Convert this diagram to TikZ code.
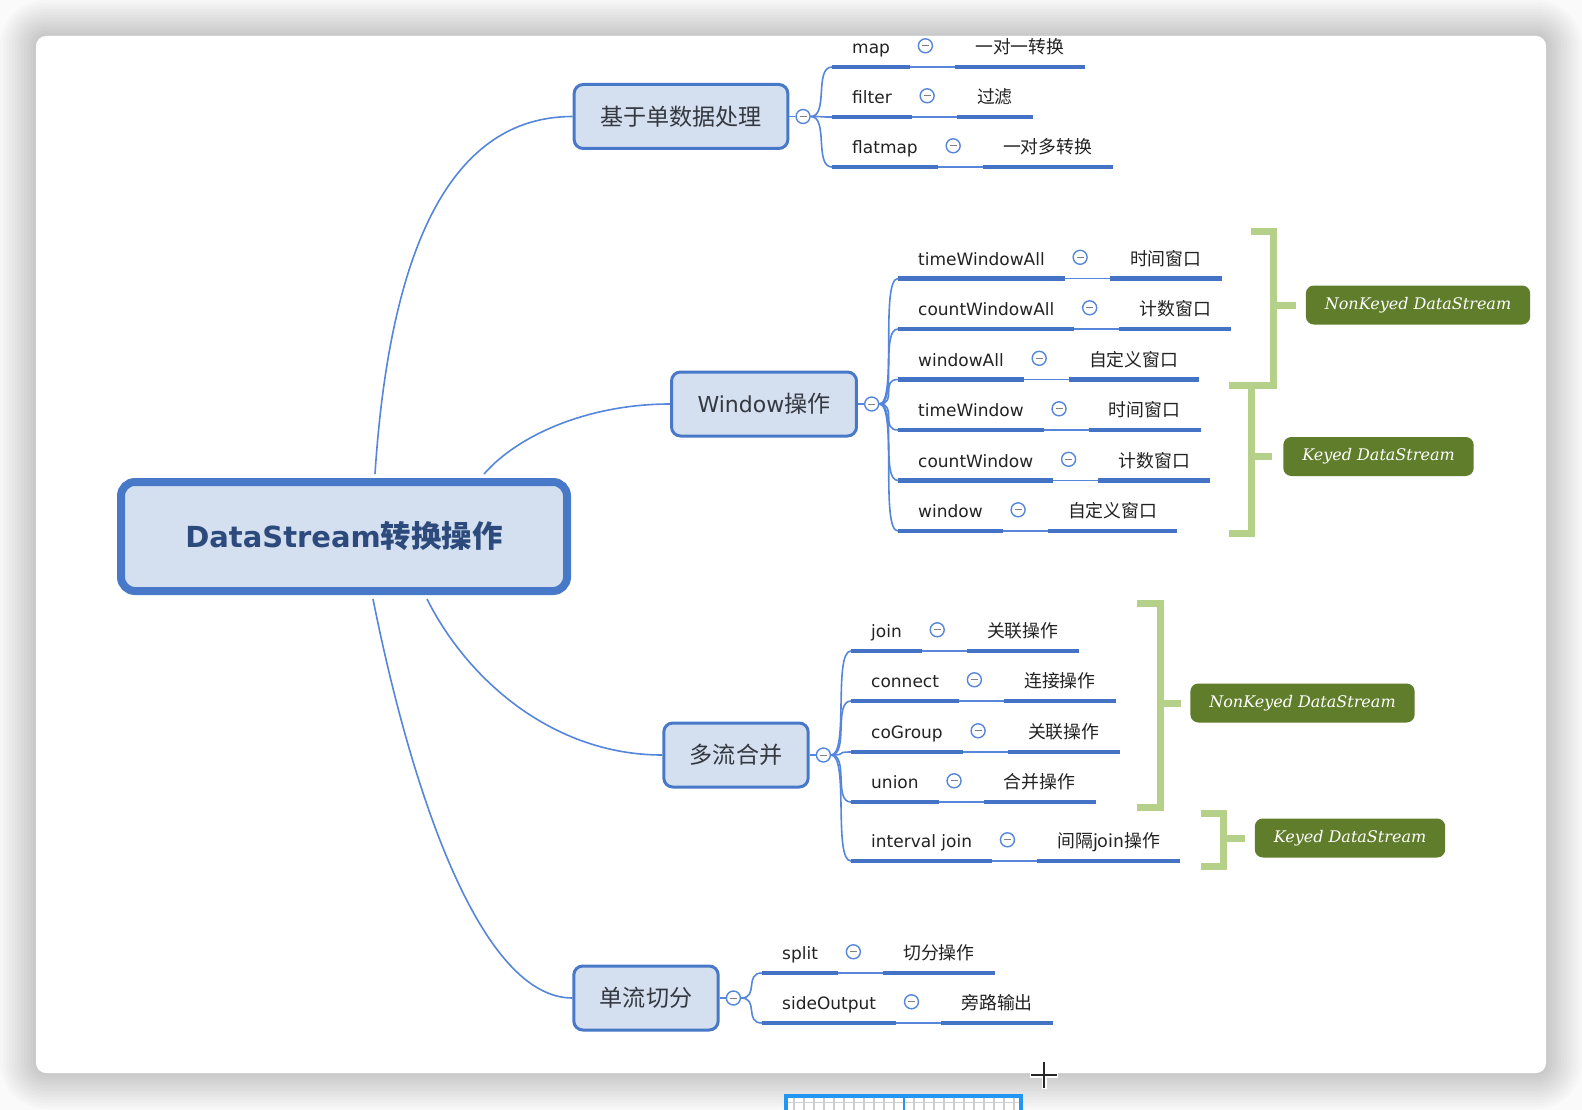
\documentclass[tikz,border=0pt]{standalone}
\usepackage{fontspec}
\setmainfont{DejaVu Sans}
\newfontfamily\cjk{Noto Sans CJK SC}[Scale=1.05]
\newfontfamily\tagfont{DejaVu Serif}
\usetikzlibrary{positioning,calc}

\definecolor{lineblue}{RGB}{68,114,196}
\definecolor{branchblue}{RGB}{86,134,220}
\definecolor{boxfill}{RGB}{212,223,239}
\definecolor{boxblue}{RGB}{72,121,201}
\definecolor{roottext}{RGB}{44,74,124}
\definecolor{topictext}{RGB}{52,56,64}
\definecolor{leaftext}{RGB}{34,34,34}
\definecolor{tagfill}{RGB}{96,125,43}
\definecolor{bracketgreen}{RGB}{181,208,136}
\definecolor{rulerblue}{RGB}{33,150,243}

\tikzset{
  maintopic/.style={draw=boxblue, line width=8pt, fill=boxfill, rounded corners=14pt,
    minimum width=446pt, minimum height=109pt, text=roottext,
    font=\bfseries\fontsize{29}{34}\selectfont},
  subtopic/.style={draw=boxblue, line width=3pt, fill=boxfill, rounded corners=9pt,
    minimum height=64pt, inner xsep=26pt, text=topictext, font=\fontsize{22}{26}\selectfont},
  fold/.style={circle, draw=branchblue, line width=1.4pt, fill=white, minimum size=14pt, inner sep=0pt,
    path picture={\draw[gray, line width=1pt] ([xshift=-3.5pt]path picture bounding box.center)
      -- ([xshift=3.5pt]path picture bounding box.center);}},
  leaf/.style={inner xsep=20pt, inner ysep=9pt, text height=20pt, text depth=4pt,
    text=leaftext, font=\fontsize{17}{20}\selectfont},
  uline/.style={draw=lineblue, line width=4.5pt},
  branch/.style={draw=branchblue, line width=1.6pt},
  bracketline/.style={draw=bracketgreen, line width=7pt, line join=miter},
  tagbox/.style={fill=tagfill, rounded corners=8pt, minimum height=39pt, inner xsep=19pt,
    text=white, font=\tagfont\itshape\fontsize{16}{19}\selectfont}
}

\begin{document}
\begin{tikzpicture}[x=1pt, y=-1pt]
    \useasboundingbox (0,0) rectangle (1582,1110);
    \clip (0,0) rectangle (1582,1110);

    % Window shadow and canvas
    \fill[gray!4] (0,0) rectangle (1582,1110);
    \foreach \k [evaluate=\k as \r using 10+3*\k] in {1,...,12}
        \fill[black, opacity=0.016, rounded corners=\r pt] ({36-3*\k},{36-3*\k}) rectangle ({1546+3*\k},{1073+3*\k});
    \fill[white, rounded corners=10pt] (36,36) rectangle (1546,1073);

    % Central topic
    \node[maintopic] (root) at (344,536.5) {DataStream{\cjk 转换操作}};

    % Main topics
    \node[subtopic] (g1) at (681,116.5) {\cjk 基于单数据处理};
    \node[subtopic] (g2) at (764,404) {Window{\cjk 操作}};
    \node[subtopic] (g3) at (736,755) {\cjk 多流合并};
    \node[subtopic] (g4) at (646,998) {\cjk 单流切分};

    \draw[branch] ($(root.north)+(31,-4)$) .. controls +(15,-230) and +(-120,0) .. (g1.west);
    \draw[branch] ($(root.north)+(140,-4)$) .. controls +(35,-40) and +(-80,0) .. (g2.west);
    \draw[branch] ($(root.south)+(83,4)$) .. controls +(40,80) and +(-110,0) .. (g3.west);
    \draw[branch] ($(root.south)+(29,4)$) .. controls +(40,200) and +(-90,0) .. (g4.west);

    % Fold buttons
    \foreach \g in {1,...,4}{
        \node[fold, right=6pt of g\g] (g\g c) {};
        \draw[branch] (g\g.east) -- (g\g c.west);
    }

    % Single data processing
    \foreach \lbl/\desc [count=\i] in {map/一对一转换, filter/过滤, flatmap/一对多转换}{
        \node[leaf, anchor=south west] (m\i) at (832,{17+50*\i}) {\lbl};
        \node[fold, right=7.5pt of m\i] (mc\i) {};
        \node[leaf, right=22pt of mc\i] (md\i) {\cjk\desc};
        \draw[uline] (m\i.south west) -- (m\i.south east);
        \draw[uline] (md\i.south west) -- (md\i.south east);
        \draw[branch] (m\i.south east) -- (md\i.south west);
        \draw[branch] (g1c.east) .. controls +(18,0) and +(-18,0) .. (m\i.south west);
    }

    % Window operations
    \foreach \lbl/\desc [count=\i] in {timeWindowAll/时间窗口, countWindowAll/计数窗口, windowAll/自定义窗口,
            timeWindow/时间窗口, countWindow/计数窗口, window/自定义窗口}{
        \node[leaf, anchor=south west] (w\i) at (898,{228+50.5*\i}) {\lbl};
        \node[fold, right=7.5pt of w\i] (wc\i) {};
        \node[leaf, right=22pt of wc\i] (wd\i) {\cjk\desc};
        \draw[uline] (w\i.south west) -- (w\i.south east);
        \draw[uline] (wd\i.south west) -- (wd\i.south east);
        \draw[branch] (w\i.south east) -- (wd\i.south west);
        \draw[branch] (g2c.east) .. controls +(18,0) and +(-18,0) .. (w\i.south west);
    }

    % Multi-stream merging
    \foreach \lbl/\desc/\y [count=\i] in {join/关联操作/651, connect/连接操作/701, coGroup/关联操作/752,
            union/合并操作/802, interval join/间隔join操作/861}{
        \node[leaf, anchor=south west] (j\i) at (851,\y) {\lbl};
        \node[fold, right=7.5pt of j\i] (jc\i) {};
        \node[leaf, right=22pt of jc\i] (jd\i) {\cjk\desc};
        \draw[uline] (j\i.south west) -- (j\i.south east);
        \draw[uline] (jd\i.south west) -- (jd\i.south east);
        \draw[branch] (j\i.south east) -- (jd\i.south west);
        \draw[branch] (g3c.east) .. controls +(18,0) and +(-18,0) .. (j\i.south west);
    }

    % Single-stream splitting
    \foreach \lbl/\desc [count=\i] in {split/切分操作, sideOutput/旁路输出}{
        \node[leaf, anchor=south west] (s\i) at (762,{923+50*\i}) {\lbl};
        \node[fold, right=7.5pt of s\i] (sc\i) {};
        \node[leaf, right=22pt of sc\i] (sd\i) {\cjk\desc};
        \draw[uline] (s\i.south west) -- (s\i.south east);
        \draw[uline] (sd\i.south west) -- (sd\i.south east);
        \draw[branch] (s\i.south east) -- (sd\i.south west);
        \draw[branch] (g4c.east) .. controls +(18,0) and +(-18,0) .. (s\i.south west);
    }

    % Stream type tags
    \node[tagbox] (nk1) at (1418,305) {NonKeyed DataStream};
    \node[tagbox] (k1) at (1378.5,456.5) {Keyed DataStream};
    \node[tagbox] (nk2) at (1302.5,703) {NonKeyed DataStream};
    \node[tagbox] (k2) at (1350,838) {Keyed DataStream};

    % Brackets
    \draw[bracketline] (1251,232) -- (1273,232) -- (1273,385) -- (1229,385);
    \draw[bracketline] (1251,385) -- (1251,533) -- (1229,533);
    \draw[bracketline] (1137,603) -- (1160,603) -- (1160,807) -- (1137,807);
    \draw[bracketline] (1201,813) -- (1223,813) -- (1223,866) -- (1201,866);
    \coordinate (b1) at (1273,305);
    \coordinate (b2) at (1251,456.5);
    \coordinate (b3) at (1160,703);
    \coordinate (b4) at (1223,838);
    \draw[bracketline, shorten >=10pt] (b1) -- (nk1.west);
    \draw[bracketline, shorten >=11pt] (b2) -- (k1.west);
    \draw[bracketline, shorten >=9pt] (b3) -- (nk2.west);
    \draw[bracketline, shorten >=10pt] (b4) -- (k2.west);

    % Ruler and cursor below the window
    \fill[white] (784,1094) rectangle (1023,1115);
    \draw[gray!35, line width=1pt] (786,1102) -- (1021,1102);
    \foreach \t in {0,...,22}
        \draw[gray!40, line width=1.2pt] ({794+10*\t},1097) -- ++(0,20);
    \draw[rulerblue, line width=4pt] (786,1115) |- (1021,1096) -- (1021,1115);
    \draw[rulerblue, line width=1.6pt] (904,1096) -- (904,1115);
    \draw[white, line width=5pt] (1030,1075) -- (1058,1075) (1044,1061) -- (1044,1089);
    \draw[black!85, line width=2.2pt] (1031,1075) -- (1057,1075) (1044,1062) -- (1044,1088);
\end{tikzpicture}
\end{document}
